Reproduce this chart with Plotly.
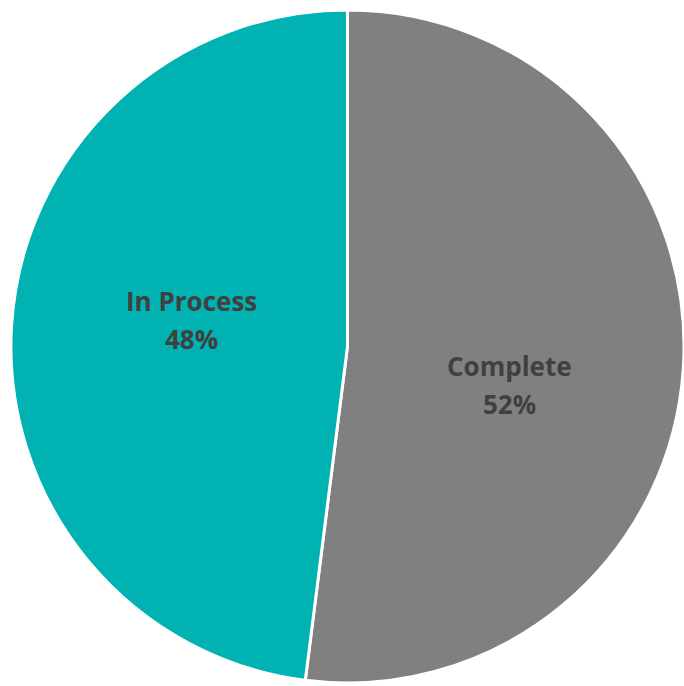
import plotly.graph_objects as go

# Project status breakdown
statuses = ["Complete", "In Process"]
shares = [52, 48]
slice_colors = ["#808080", "#00B2B2"]

# Label anchor points (paper coordinates) for the slice labels
label_x = [0.7456, 0.2807]
label_y_name = [0.4665, 0.5615]
label_y_pct = [0.4110, 0.5055]

fig = go.Figure(
    go.Pie(
        labels=statuses,
        values=shares,
        sort=False,
        direction="clockwise",
        rotation=0,
        marker=dict(colors=slice_colors, line=dict(color="#FFFFFF", width=3)),
        textinfo="none",
        showlegend=False,
        hoverinfo="label+percent",
        domain=dict(x=[0.016, 1.0], y=[0.0, 0.99]),
    )
)

total = sum(shares)
label_font = dict(family="Open Sans", size=26, color="#404040")
for name, val, x, y1, y2 in zip(statuses, shares, label_x, label_y_name, label_y_pct):
    fig.add_annotation(
        x=x, y=y1, xref="paper", yref="paper",
        text=f"<b>{name}</b>", showarrow=False,
        xanchor="center", yanchor="middle", font=label_font,
    )
    fig.add_annotation(
        x=x, y=y2, xref="paper", yref="paper",
        text=f"<b>{round(100 * val / total)}%</b>", showarrow=False,
        xanchor="center", yanchor="middle", font=label_font,
    )

fig.update_layout(
    width=684,
    height=686,
    margin=dict(l=0, r=0, t=0, b=0),
    paper_bgcolor="#FFFFFF",
    plot_bgcolor="#FFFFFF",
)

fig.write_html("out.html")
